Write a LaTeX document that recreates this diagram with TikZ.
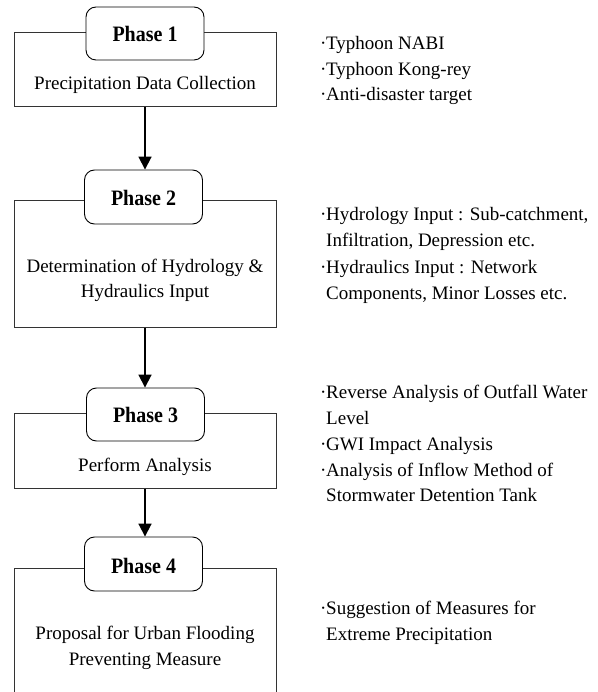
\documentclass[tikz,border=0pt]{standalone}
\usepackage{fontspec}
\usepackage{graphicx}
\setmainfont{Liberation Serif}
\usetikzlibrary{arrows.meta}
\tikzset{
  mainbox/.style={draw=black!80, line width=1pt, rectangle, inner sep=0pt},
  phasebox/.style={draw=black, line width=0.9pt, fill=white, rounded corners=10pt, inner sep=0pt, minimum width=118pt, minimum height=53pt},
  phasetxt/.style={anchor=base, inner sep=0pt, font=\fontsize{20}{24}\selectfont\bfseries},
  boxtxt/.style={anchor=base, inner sep=0pt, font=\fontsize{19}{23}\selectfont},
  note/.style={anchor=base west, inner sep=0pt, font=\fontsize{19}{23}\selectfont},
  flow/.style={line width=1.8pt, -{Triangle[width=13pt,length=13pt]}}
}
\newcommand{\dotitem}{\makebox[6pt][l]{·}}
\newcommand{\dotcont}{\hspace*{6pt}}
\newcommand{\tallph}[1]{\scalebox{1}[1.1]{#1}}
\begin{document}
\begin{tikzpicture}[x=1pt,y=-1pt]
\clip (0,0) rectangle (597,692);
\useasboundingbox (0,0) rectangle (597,692);
% main boxes
\node[mainbox, minimum width=262pt, minimum height=74pt] (b1) at (145,70) {};
\node[mainbox, minimum width=262pt, minimum height=126pt] (b2) at (145,264) {};
\node[mainbox, minimum width=262pt, minimum height=75pt] (b3) at (145,450.5) {};
\node[mainbox, minimum width=262pt, minimum height=152pt] (b4) at (145,644) {};
% phase boxes
\node[phasebox] (p1) at (145,33.5) {};
\node[phasebox, minimum height=54pt] (p2) at (143.5,197) {};
\node[phasebox] (p3) at (145.5,414.5) {};
\node[phasebox, minimum height=54pt] (p4) at (143.5,564) {};
\node[phasetxt] (p1t) at (145,42) {\tallph{Phase 1}};
\node[phasetxt] (p2t) at (143.5,205.5) {\tallph{Phase 2}};
\node[phasetxt] (p3t) at (145.5,422) {\tallph{Phase 3}};
\node[phasetxt] (p4t) at (143.5,573) {\tallph{Phase 4}};
% box texts
\node[boxtxt] (t1) at (145,90) {Precipitation Data Collection};
\node[boxtxt] (t2a) at (145,272) {Determination of Hydrology \&};
\node[boxtxt] (t2b) at (145,297) {Hydraulics Input};
\node[boxtxt] (t3) at (145,471) {Perform Analysis};
\node[boxtxt] (t4a) at (145,639) {Proposal for Urban Flooding};
\node[boxtxt] (t4b) at (145,665) {Preventing Measure};
% arrows
\draw[flow] (b1.south -| p1.south) -- (b1.south |- p2.north);
\draw[flow] (b2.south) -- (b2.south |- p3.north);
\draw[flow] (b3.south) -- (b3.south |- p4.north);
% notes
\node[note] (n1a) at (320,50) {\dotitem Typhoon NABI};
\node[note] (n1b) at (320,75.5) {\dotitem Typhoon Kong-rey};
\node[note] (n1c) at (320,101) {\dotitem Anti-disaster target};
\node[note] (n2a) at (320,221) {\dotitem Hydrology Input : Sub-catchment,};
\node[note] (n2b) at (320,247) {\dotcont Infiltration, Depression etc.};
\node[note] (n2c) at (320,273) {\dotitem Hydraulics Input : Network};
\node[note] (n2d) at (320,299) {\dotcont Components, Minor Losses etc.};
\node[note] (n3a) at (320,398) {\dotitem Reverse Analysis of Outfall Water};
\node[note] (n3b) at (320,424) {\dotcont Level};
\node[note] (n3c) at (320,450) {\dotitem GWI Impact Analysis};
\node[note] (n3d) at (320,476) {\dotitem Analysis of Inflow Method of};
\node[note] (n3e) at (320,501) {\dotcont Stormwater Detention Tank};
\node[note] (n4a) at (320,614) {\dotitem Suggestion of Measures for};
\node[note] (n4b) at (320,640) {\dotcont Extreme Precipitation};
\end{tikzpicture}
\end{document}
